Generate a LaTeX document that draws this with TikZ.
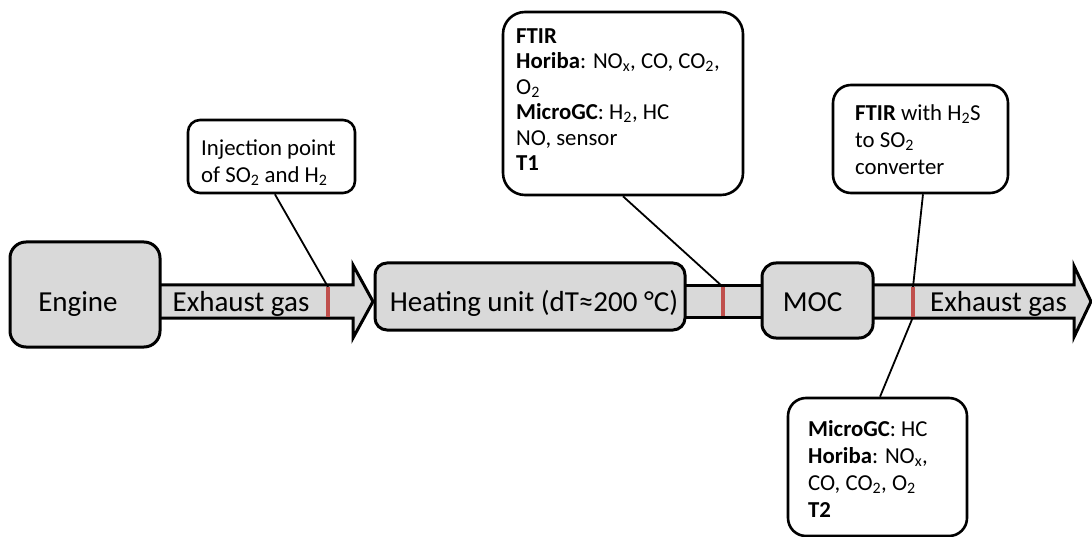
\documentclass[tikz,border=0pt]{standalone}
\usepackage{fontspec}
\setmainfont{Carlito}
\usetikzlibrary{calc}
\definecolor{boxgray}{HTML}{D9D9D9}
\definecolor{tapred}{HTML}{C0504D}
\tikzset{
  unitbox/.style={draw=black, line width=3pt, fill=boxgray, rounded corners=#1, inner sep=0pt},
  calloutbox/.style={draw=black, line width=2.6pt, fill=white, rounded corners=#1, inner sep=0pt},
  flowpath/.style={draw=black, line width=3pt, fill=boxgray, line join=miter},
  bigtext/.style={font=\fontsize{29}{35}\selectfont, inner sep=0pt, anchor=base},
  notetext/.style={font=\fontsize{22.8}{#1}\selectfont, inner sep=0pt, anchor=north west, align=left},
  tapmark/.style={draw=tapred, line width=4pt},
  leadline/.style={draw=black, line width=1.8pt},
}
\begin{document}
\begin{tikzpicture}[x=1pt,y=-1pt]
\path[use as bounding box] (0,0) rectangle (1092,537);

% gas flow: engine -> heater, heater -> MOC, MOC -> outlet
\draw[flowpath] (150,285) -- (353,285) -- (353,265) -- (373,301.5) -- (353,338) -- (353,318) -- (150,318) -- cycle;
\draw[flowpath] (680,286) rectangle (767,317);
\draw[flowpath] (868,285) -- (1074,285) -- (1074,266) -- (1091,301.5) -- (1074,337) -- (1074,318) -- (868,318) -- cycle;

% process units
\node[unitbox=16pt, minimum width=150, minimum height=105] (engine) at (85,294.5) {};
\node[unitbox=12pt, minimum width=310, minimum height=67] (heater) at (530,296.5) {};
\node[unitbox=14pt, minimum width=111, minimum height=75] (moc) at (817.5,300.5) {};

\node[bigtext] (engine-t) at (78,312) {Engine};
\node[bigtext] (gas-in) at (241,312) {Exhaust gas};
\node[bigtext] (heater-t) at (534,312) {Heating unit (dT≈200 °C)};
\node[bigtext] (moc-t) at (812.5,312) {MOC};
\node[bigtext] (gas-out) at (998.5,312) {Exhaust gas};

% sampling / injection points
\coordinate (m1t) at (328,287); \coordinate (m1b) at (328,317);
\coordinate (m2t) at (723,287); \coordinate (m2b) at (723,316);
\coordinate (m3t) at (913,287); \coordinate (m3b) at (913,317);

% callout boxes
\node[calloutbox=12pt, minimum width=167, minimum height=73] (inj) at (271.5,156.5) {};
\node[calloutbox=22pt, minimum width=240, minimum height=183] (t1) at (623,103.5) {};
\node[calloutbox=18pt, minimum width=175, minimum height=108] (ftir) at (920.5,139) {};
\node[calloutbox=18pt, minimum width=179, minimum height=138] (t2) at (877.5,467) {};

% leader lines
\draw[leadline] ($(inj.south west)!0.52!(inj.south east)$) -- (m1t);
\draw[leadline] (t1.south) -- (m2t);
\draw[leadline] ($(ftir.south west)!0.514!(ftir.south east)$) -- (m3t);
\draw[leadline] (m3b) -- ($(t2.north west)!0.514!(t2.north east)$);

\draw[tapmark] (m1t) -- (m1b);
\draw[tapmark] (m2t) -- (m2b);
\draw[tapmark] (m3t) -- (m3b);

% callout texts
\node[notetext=27] (inj-t) at (201,137) {\rule{0pt}{18pt}Injection point\\of SO\textsubscript{2} and H\textsubscript{2}};
\node[notetext=25.5] (t1-t) at (516,25) {\rule{0pt}{18pt}\textbf{FTIR}\\\textbf{Horiba}: NO\textsubscript{x}, CO, CO\textsubscript{2},\\O\textsubscript{2}\\\textbf{MicroGC}: H\textsubscript{2}, HC\\NO, sensor\\\textbf{T1}};
\node[notetext=27] (ftir-t) at (855,102) {\rule{0pt}{18pt}\textbf{FTIR} with H\textsubscript{2}S\\to SO\textsubscript{2}\\converter};
\node[notetext=27] (t2-t) at (808,418) {\rule{0pt}{18pt}\textbf{MicroGC}: HC\\\textbf{Horiba}: NO\textsubscript{x},\\CO, CO\textsubscript{2}, O\textsubscript{2}\\\textbf{T2}};
\end{tikzpicture}
\end{document}
